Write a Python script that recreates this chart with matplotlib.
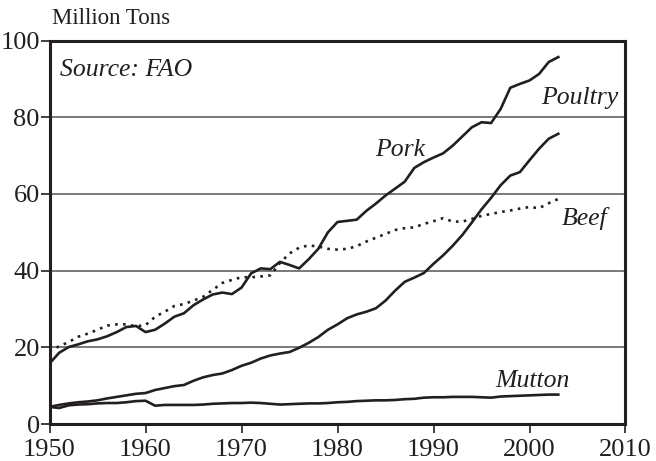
import matplotlib.pyplot as plt

years = list(range(1950, 2004))

pork = [15.8, 18.6, 20.1, 20.8, 21.6, 22.1, 22.9, 24.0, 25.3, 25.6,
        24.0, 24.6, 26.2, 28.0, 28.9, 31.0, 32.5, 33.8, 34.3, 33.9,
        35.6, 39.3, 40.6, 40.4, 42.3, 41.5, 40.6, 43.0, 45.7, 50.0,
        52.7, 53.0, 53.3, 55.6, 57.5, 59.6, 61.4, 63.2, 66.8, 68.3,
        69.5, 70.6, 72.6, 75.0, 77.4, 78.7, 78.5, 82.2, 87.7, 88.7,
        89.6, 91.3, 94.4, 95.7]

beef = [19.0, 20.3, 21.4, 22.8, 23.6, 24.6, 25.7, 26.0, 26.0, 25.5,
        25.8, 28.0, 29.3, 30.8, 31.3, 32.2, 33.2, 35.0, 36.8, 37.6,
        38.3, 38.3, 38.5, 38.8, 42.0, 44.5, 46.0, 46.6, 46.3, 45.7,
        45.5, 45.7, 46.4, 47.6, 48.6, 49.6, 50.6, 51.1, 51.3, 52.2,
        52.9, 53.7, 52.8, 52.8, 53.5, 54.3, 54.8, 55.3, 55.7, 56.2,
        56.6, 56.3, 57.6, 58.7]

poultry = [4.5, 5.0, 5.4, 5.7, 5.9, 6.2, 6.7, 7.1, 7.5, 7.9,
           8.1, 8.9, 9.4, 9.9, 10.2, 11.3, 12.2, 12.8, 13.2, 14.1,
           15.2, 16.0, 17.1, 17.9, 18.4, 18.8, 19.9, 21.2, 22.7, 24.6,
           26.0, 27.6, 28.6, 29.3, 30.2, 32.2, 34.8, 37.1, 38.2, 39.4,
           41.8, 44.0, 46.5, 49.3, 52.6, 56.0, 59.0, 62.3, 64.8, 65.7,
           68.8, 71.8, 74.4, 75.7]

mutton = [4.5, 4.2, 4.9, 5.1, 5.2, 5.4, 5.5, 5.5, 5.7, 6.0,
          6.1, 4.8, 5.0, 5.0, 5.0, 5.0, 5.1, 5.3, 5.4, 5.5,
          5.5, 5.6, 5.5, 5.3, 5.1, 5.2, 5.3, 5.4, 5.4, 5.5,
          5.7, 5.8, 6.0, 6.1, 6.2, 6.2, 6.3, 6.5, 6.6, 6.9,
          7.0, 7.0, 7.1, 7.1, 7.1, 7.0, 6.9, 7.2, 7.3, 7.4,
          7.5, 7.6, 7.7, 7.7]

x_ticks = [1950, 1960, 1970, 1980, 1990, 2000, 2010]
y_ticks = [0, 20, 40, 60, 80, 100]

ink = '#231f20'
plt.rcParams['font.family'] = ['Liberation Serif', 'DejaVu Serif']

fig = plt.figure(figsize=(6.56, 4.61), dpi=100)
ax = fig.add_axes([0.0755, 0.080, 0.878, 0.832])

# grid lines at the inner ticks
for v in y_ticks[1:-1]:
    ax.axhline(v, color='#555555', linewidth=1.1, zorder=1)

ax.plot(years, pork, color=ink, linewidth=1.9, zorder=3)
ax.plot(years, poultry, color=ink, linewidth=1.9, zorder=3)
ax.plot(years, mutton, color=ink, linewidth=1.9, zorder=3)
ax.plot(years, beef, color=ink, linewidth=1.9, linestyle=(0, (1, 2)), zorder=3)

ax.set_xlim(1950, 2010)
ax.set_ylim(0, 100)
ax.set_xticks(x_ticks)
ax.set_yticks(y_ticks)
ax.tick_params(axis='both', direction='out', length=6.5, width=1.2, color=ink,
               labelsize=19, labelcolor=ink)
ax.tick_params(axis='x', pad=4)
ax.tick_params(axis='y', pad=0.5)

for s in ax.spines.values():
    s.set_linewidth(2.2)
    s.set_color(ink)

lbl = dict(fontsize=18.5, style='italic', color=ink, va='center', ha='left')
ax.text(1951.1, 92.2, 'Source: FAO', **lbl)
ax.text(1983.9, 71.4, 'Pork', **lbl)
ax.text(2001.2, 84.9, 'Poultry', **lbl)
ax.text(2003.4, 53.6, 'Beef', **lbl)
ax.text(1996.4, 11.2, 'Mutton', **lbl)

fig.text(52 / 656, 1 - 19 / 461, 'Million Tons', fontsize=16.5, color=ink,
         ha='left', va='center')

fig.savefig('out.png', dpi=100)
